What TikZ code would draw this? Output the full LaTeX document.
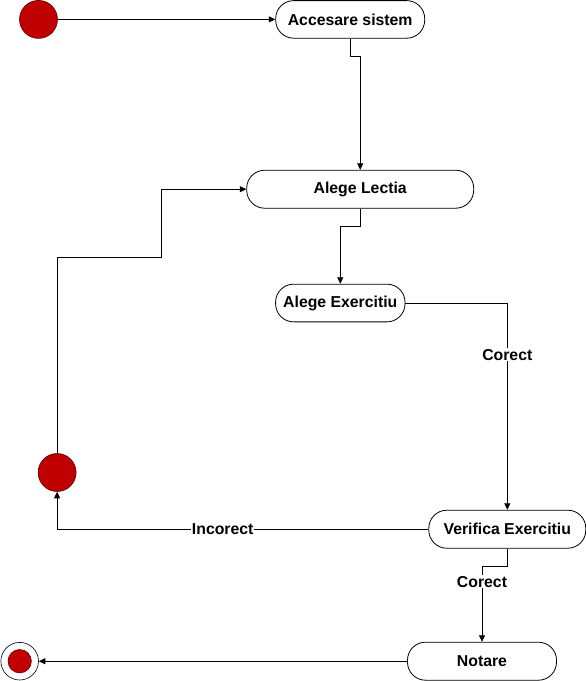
\documentclass[tikz,border=0pt]{standalone}
\usepackage{fontspec}
\setmainfont{Liberation Sans}
\usetikzlibrary{arrows.meta}
\definecolor{dotred}{RGB}{192,0,0}
\definecolor{dotline}{RGB}{90,0,0}
\begin{document}
\begin{tikzpicture}[x=1pt,y=-1pt,
  txt/.style={font=\fontsize{15.8}{18}\selectfont\bfseries},
  state/.style={draw=black, line width=0.8pt, fill=white, rounded corners=18pt,
    inner sep=0pt, align=center, txt},
  dot/.style={circle, draw=dotline, line width=0.6pt, fill=dotred, inner sep=0pt, minimum size=38pt},
  lbl/.style={fill=white, inner sep=1pt, txt},
  arr/.style={draw=black, line width=0.8pt, -{Triangle[length=6.5pt,width=6pt]}}]
\useasboundingbox (0,0) rectangle (586,681);
% nodes
\node[dot] (start) at (38.5,19.4) {};
\node[state, minimum width=149pt, minimum height=37.6pt] (acc) at (350.2,19.4) {Accesare sistem};
\node[state, minimum width=227pt, minimum height=38pt] (lectia) at (360.2,189.2) {Alege Lectia};
\node[state, minimum width=129.4pt, minimum height=37.7pt] (exer) at (340.3,303) {Alege Exercitiu};
\node[state, minimum width=157pt, minimum height=38pt] (verif) at (507.3,529.2) {Verifica Exercitiu};
\node[state, minimum width=149pt, minimum height=38pt] (notare) at (482,661.2) {Notare};
\node[dot] (dec) at (57.1,472.5) {};
\node[circle, draw=black, line width=0.6pt, fill=white, inner sep=0pt, minimum size=37.6pt] (end) at (19.7,661.2) {};
\node[dot, minimum size=23.4pt] (endin) at (end.center) {};
\coordinate (c1) at (161.2,257.3);
% connectors
\draw[arr] (start) -- (acc);
\draw[arr] (acc.south) -- ++(0,18) -| (lectia.north);
\draw[arr] (lectia.south) -- ++(0,18) -| (exer.north);
\draw[arr] (exer.east) -| node[lbl, pos=0.625] {Corect} (verif.north);
\draw[arr] (verif.south) -- ++(0,18) -| node[lbl, pos=0.6] {Corect} (notare.north);
\draw[arr] (verif.west) -| node[lbl, pos=0.277] {Incorect} (dec.south);
\draw[arr] (dec.north) |- (c1) |- (lectia.west);
\draw[arr] (notare.west) -- (end.east);
\end{tikzpicture}
\end{document}
